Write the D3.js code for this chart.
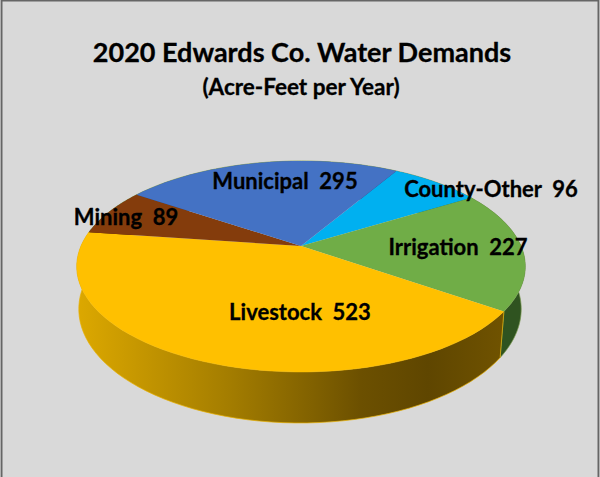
<!DOCTYPE html>
<html><head><meta charset="utf-8">
<script src="https://cdn.jsdelivr.net/npm/d3@7"></script>
<style>html,body{margin:0;padding:0;background:#fff}svg{display:block}text{font-family:Lato,"Liberation Sans",sans-serif;font-weight:700;fill:#000;stroke:#000;stroke-width:0.3;white-space:pre}</style>
</head><body><svg id="c" width="600" height="477"></svg>
<script>
const categories = ["County-Other","Irrigation","Livestock","Mining","Municipal"];
const demands = [96,227,523,89,295];
const topColors = ["#00b0f0","#70ad47","#ffc000","#843c0c","#4472c4"];
const wallColors = ["#00688f","#2f5320","url(#wallGold)","#4d2307","#284375"];
const titleText = "2020 Edwards Co. Water Demands";
const subtitleText = "(Acre-Feet per Year)";

const W=600,H=477;
const svg=d3.select("#c");
const defs=svg.append("defs");
const grad=defs.append("linearGradient").attr("id","wallGold").attr("gradientUnits","userSpaceOnUse")
  .attr("x1",78).attr("x2",500).attr("y1",0).attr("y2",0);
[[0,"#dca800"],[0.35,"#a57e00"],[0.55,"#826200"],[0.67,"#6c5000"],[0.83,"#5f4600"],[1,"#6f5200"]].forEach(s=>grad.append("stop").attr("offset",s[0]).attr("stop-color",s[1]));

svg.append("rect").attr("x",0).attr("y",0).attr("width",W).attr("height",H).attr("fill","#fff");
svg.append("rect").attr("x",1.5).attr("y",0.5).attr("width",597).attr("height",H+5).attr("fill","#d9d9d9").attr("stroke","#666").attr("stroke-width",2);

// perspective disc: unit-disc coordinates mapped through scales to the screen
const persp=0.194;
const sx=d3.scaleLinear().domain([-1,1]).range([301-220,301+220]);
const syTop=d3.scaleLinear().domain([-1,1]).range([246+101.5,246-101.5]);
const sxLow=d3.scaleLinear().domain([-1,1]).range([300-217,300+217]);
const syLow=d3.scaleLinear().domain([-1,1]).range([287+109.6,287-109.6]);
function proj(a,r,xs,ys){
  const X=r*Math.sin(a),Z=r*Math.cos(a),d=1+persp*Z;
  return [xs(X/d),ys(Z/d)];
}
const pie=d3.pie().sort(null).startAngle(30.4*Math.PI/180).endAngle(390.4*Math.PI/180);
const arcs=pie(demands);
const line=d3.line();
const arcPts=(a,xs,ys)=>d3.range(0,61).map(i=>proj(a.startAngle+(a.endAngle-a.startAngle)*i/60,1,xs,ys));

// walls
const wallOrder=[0,4,3,1,2];
svg.append("g").selectAll("path").data(wallOrder).join("path")
  .attr("d",i=>line([...arcPts(arcs[i],sx,syTop),...arcPts(arcs[i],sxLow,syLow).reverse()])+"Z")
  .attr("fill",i=>wallColors[i])
  .attr("stroke",i=>i===2?"#e8b000":"#7a9a50").attr("stroke-width",0.7);

// top faces
svg.append("g").selectAll("path").data(arcs).join("path")
  .attr("d",a=>line([proj(0,0,sx,syTop),...arcPts(a,sx,syTop)])+"Z")
  .attr("fill",(a,i)=>topColors[i]);

// text
svg.append("text").attr("x",302).attr("y",62).attr("text-anchor","middle").attr("font-size",27).text(titleText);
svg.append("text").attr("x",301).attr("y",95).attr("text-anchor","middle").attr("font-size",22.5).text(subtitleText);
const labelCenters=[[491,197],[458,255],[300,320],[126,225],[285,189]];
svg.append("g").selectAll("text").data(categories).join("text")
  .attr("x",(c,i)=>labelCenters[i][0]).attr("y",(c,i)=>labelCenters[i][1])
  .attr("text-anchor","middle").attr("font-size",22)
  .text((c,i)=>c+"  "+demands[i]);
</script></body></html>
